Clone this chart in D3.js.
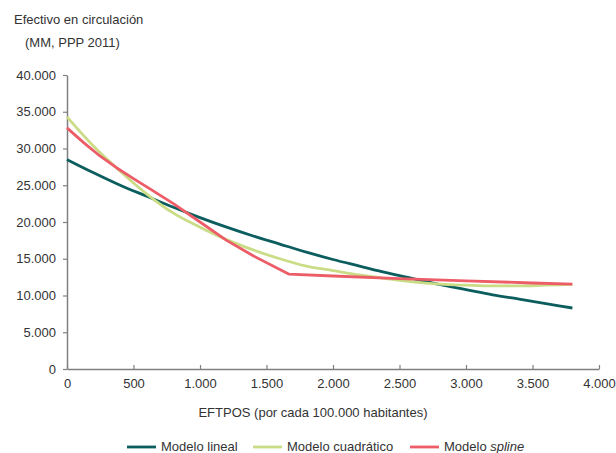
<!DOCTYPE html>
<html>
<head>
<meta charset="utf-8">
<script src="https://cdn.jsdelivr.net/npm/d3@7"></script>
<style>
  body { margin: 0; background: #fff; }
  svg { font-family: "Liberation Sans", Arial, sans-serif; }
  .axis path, .axis line { stroke: #808080; }
  .axis text { fill: #333; }
  .label { fill: #333; font-size: 13px; }
</style>
</head>
<body>
<svg id="canvas" width="616" height="453"></svg>
<script>
// EFTPOS per 100.000 inhabitants
const eftpos = [0, 200, 400, 600, 800, 1000, 1200, 1400, 1600, 1800, 2000,
                2200, 2400, 2600, 2800, 3000, 3200, 3400, 3600, 3800];

const linealValues = [28500, 26700, 25000, 23500, 22000, 20600, 19300, 18100, 17000, 15900, 14900,
                      14000, 13100, 12300, 11500, 10800, 10100, 9500, 8900, 8300];

const cuadraticoValues = [34300, 30300, 26900, 23800, 21200, 19300, 17600, 16200, 15000, 14000, 13400,
                          12800, 12300, 11850, 11550, 11400, 11300, 11300, 11400, 11500];

const splineX = [0, 125, 250, 375, 500, 624, 800, 1000, 1200, 1400, 1670, 2000, 2500, 3000, 3500, 3800];
const splineValues = [32800, 30800, 28950, 27350, 25900, 24500, 22500, 20000, 17500, 15400, 12900,
                      12650, 12300, 12000, 11700, 11550];

const xTicks = [0, 500, 1000, 1500, 2000, 2500, 3000, 3500, 4000];
const yTicks = [0, 5000, 10000, 15000, 20000, 25000, 30000, 35000, 40000];

const fmt = d => d3.format(",")(d).replace(/,/g, ".");

const svg = d3.select("#canvas");

const x = d3.scaleLinear().domain([0, 4000]).range([67, 599]);
const y = d3.scaleLinear().domain([0, 40000]).range([369, 75]);

// Axes
svg.append("g")
    .attr("class", "axis")
    .attr("transform", "translate(0,369)")
    .call(d3.axisBottom(x).tickValues(xTicks).tickFormat(fmt).tickSizeInner(-4).tickSizeOuter(0).tickPadding(10))
    .call(g => g.select(".domain").attr("stroke-width", 1.5))
    .call(g => g.selectAll(".tick line").attr("stroke-width", 1.2));

svg.append("g")
    .attr("class", "axis")
    .attr("transform", "translate(67,0)")
    .call(d3.axisLeft(y).tickValues(yTicks).tickFormat(fmt).tickSizeInner(4).tickSizeOuter(0).tickPadding(7))
    .call(g => g.select(".domain").attr("stroke-width", 1.5))
    .call(g => g.selectAll(".tick line").attr("stroke-width", 1.2));

svg.selectAll(".axis").attr("font-family", null).attr("font-size", 13);

// Lines
const series = [
    { name: "lineal", xs: eftpos, ys: linealValues, color: "#0b5d5e", curve: d3.curveMonotoneX },
    { name: "cuadratico", xs: eftpos, ys: cuadraticoValues, color: "#cbdc86", curve: d3.curveMonotoneX },
    { name: "spline", xs: splineX, ys: splineValues, color: "#ec5d68", curve: d3.curveLinear }
];

series.forEach(s => {
    const line = d3.line()
        .x((d, i) => x(s.xs[i]))
        .y(d => y(d))
        .curve(s.curve);
    svg.append("path")
        .datum(s.ys)
        .attr("fill", "none")
        .attr("stroke", s.color)
        .attr("stroke-width", 2.8)
        .attr("stroke-linejoin", "round")
        .attr("d", line);
});

// Titles
svg.append("text").attr("class", "label").attr("x", 14).attr("y", 24).text("Efectivo en circulación");
svg.append("text").attr("class", "label").attr("x", 25).attr("y", 47).text("(MM, PPP 2011)");
svg.append("text").attr("class", "label").attr("x", 313).attr("y", 417)
    .attr("text-anchor", "middle").text("EFTPOS (por cada 100.000 habitantes)");

// Legend
const legend = [
    { x: 127, color: "#0b5d5e", label: "Modelo lineal" },
    { x: 253, color: "#cbdc86", label: "Modelo cuadrático" },
    { x: 410, color: "#ec5d68", label: "Modelo ", italic: "spline" }
];

legend.forEach(l => {
    svg.append("line")
        .attr("x1", l.x).attr("x2", l.x + 29)
        .attr("y1", 447).attr("y2", 447)
        .attr("stroke", l.color).attr("stroke-width", 2.8);
    const t = svg.append("text").attr("class", "label")
        .attr("x", l.x + 34).attr("y", 451);
    t.append("tspan").text(l.label);
    if (l.italic) t.append("tspan").attr("font-style", "italic").text(l.italic);
});
</script>
</body>
</html>
